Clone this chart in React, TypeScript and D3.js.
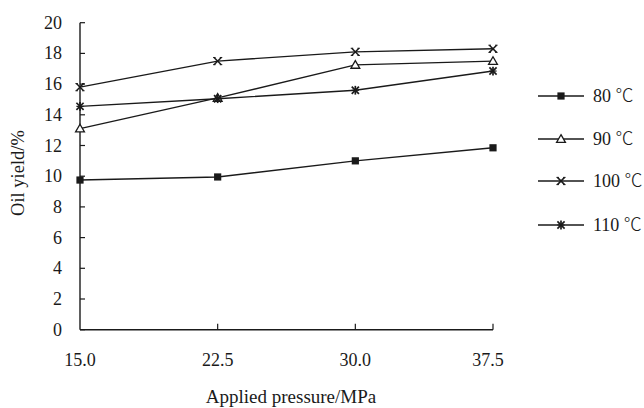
import React from "react";
import * as d3 from "d3";

const pressures = [15.0, 22.5, 30.0, 37.5];
const xTickLabels = ["15.0", "22.5", "30.0", "37.5"];
const yTicks = [0, 2, 4, 6, 8, 10, 12, 14, 16, 18, 20];
const seriesTemps = ["80", "90", "100", "110"];
const tempUnit = "℃";
const markerKinds = ["square", "triangle", "x", "asterisk"];
const yield80 = [9.75, 9.95, 11.0, 11.85];
const yield90 = [13.1, 15.1, 17.25, 17.5];
const yield100 = [15.8, 17.5, 18.1, 18.3];
const yield110 = [14.55, 15.05, 15.6, 16.85];
const allSeries = [yield80, yield90, yield100, yield110];

const W = 644;
const H = 408;
const M = { left: 80, right: 493, top: 22.7, bottom: 329.7 };
const ink = "#1a1a1a";
const font = "'Liberation Serif', 'Times New Roman', serif";

function Marker({ kind, x, y }: { kind: string; x: number; y: number }) {
  if (kind === "square") {
    return <rect x={x - 3.6} y={y - 3.6} width={7.2} height={7.2} fill={ink} />;
  }
  if (kind === "triangle") {
    const p = d3.symbol().type(d3.symbolTriangle).size(34)();
    return <path d={p || ""} transform={`translate(${x},${y + 0.8})`} fill="white" stroke={ink} strokeWidth={1.3} />;
  }
  const s = 3.6;
  if (kind === "x") {
    return (
      <g stroke={ink} strokeWidth={1.5}>
        <line x1={x - s} y1={y - s} x2={x + s} y2={y + s} />
        <line x1={x - s} y1={y + s} x2={x + s} y2={y - s} />
        <line x1={x - s - 1} y1={y - s} x2={x - s + 1.5} y2={y - s} strokeWidth={1} />
        <line x1={x + s - 1.5} y1={y - s} x2={x + s + 1} y2={y - s} strokeWidth={1} />
        <line x1={x - s - 1} y1={y + s} x2={x - s + 1.5} y2={y + s} strokeWidth={1} />
        <line x1={x + s - 1.5} y1={y + s} x2={x + s + 1} y2={y + s} strokeWidth={1} />
      </g>
    );
  }
  return (
    <g stroke={ink} strokeWidth={1.7}>
      <line x1={x - s} y1={y - s} x2={x + s} y2={y + s} />
      <line x1={x - s} y1={y + s} x2={x + s} y2={y - s} />
      <line x1={x} y1={y - s - 0.8} x2={x} y2={y + s + 0.8} />
      <line x1={x - s} y1={y} x2={x + s} y2={y} strokeWidth={1.2} />
    </g>
  );
}

export default function App() {
  const x = d3.scaleLinear().domain([15, 37.5]).range([M.left, M.right]);
  const y = d3.scaleLinear().domain([0, 20]).range([M.bottom, M.top]);
  const line = d3
    .line<number>()
    .x((_, i) => x(pressures[i]))
    .y((d) => y(d));

  const legendY = [96, 139, 181, 225];

  return (
    <svg
      width={W}
      height={H}
      style={{ position: "absolute", left: 0, top: 0, background: "white" }}
      fontFamily={font}
    >
      <rect width={W} height={H} fill="white" />
      <line x1={M.left} y1={M.top} x2={M.left} y2={M.bottom} stroke={ink} strokeWidth={1.4} />
      <line x1={M.left} y1={M.bottom} x2={M.right} y2={M.bottom} stroke={ink} strokeWidth={1.4} />
      {yTicks.map((t) => (
        <g key={t}>
          <line x1={M.left} x2={M.left + 5} y1={y(t)} y2={y(t)} stroke={ink} strokeWidth={1.2} />
          <text x={62} y={y(t) + 6} textAnchor="end" fontSize={18} fill={ink}>
            {t}
          </text>
        </g>
      ))}
      {pressures.map((p, i) => (
        <g key={p}>
          {i > 0 && (
            <line x1={x(p)} x2={x(p)} y1={M.bottom} y2={M.bottom - 6} stroke={ink} strokeWidth={1.2} />
          )}
          <text x={x(p) - (i === 3 ? 5 : 0)} y={366} textAnchor="middle" fontSize={18} fill={ink}>
            {xTickLabels[i]}
          </text>
        </g>
      ))}
      <text x={291} y={403} textAnchor="middle" fontSize={19} fill={ink}>
        Applied pressure/MPa
      </text>
      <text
        transform={`translate(${24},${173}) rotate(-90)`}
        textAnchor="middle"
        fontSize={18.5}
        fill={ink}
      >
        Oil yield/%
      </text>
      {allSeries.map((s, si) => (
        <g key={si}>
          <path d={line(s) || ""} fill="none" stroke={ink} strokeWidth={1.4} />
          {s.map((v, i) => (
            <Marker key={i} kind={markerKinds[si]} x={x(pressures[i])} y={y(v)} />
          ))}
        </g>
      ))}
      {seriesTemps.map((n, i) => (
        <g key={n}>
          <line x1={538} x2={584} y1={legendY[i]} y2={legendY[i]} stroke={ink} strokeWidth={1.4} />
          <Marker kind={markerKinds[i]} x={561} y={legendY[i]} />
          <text x={593} y={legendY[i] + 6} fontSize={18} fill={ink}>
            {n + " "}
            <tspan fontFamily="'Noto Sans CJK SC', sans-serif" fontSize={18} fontWeight={300}>
              {tempUnit}
            </tspan>
          </text>
        </g>
      ))}
    </svg>
  );
}
